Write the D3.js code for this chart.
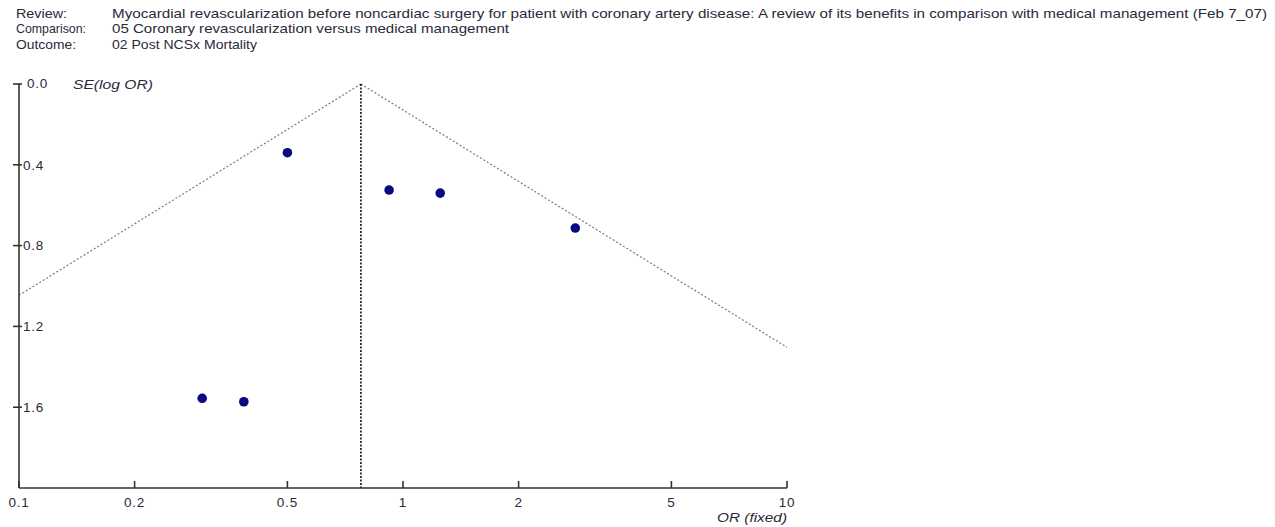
<!DOCTYPE html>
<html>
<head>
<meta charset="utf-8">
<script src="https://cdn.jsdelivr.net/npm/d3@7"></script>
<style>
  html, body { margin: 0; padding: 0; background: #fff; }
  svg { display: block; font-family: "Liberation Sans", Arial, sans-serif; }
</style>
</head>
<body>
<svg id="chart" width="1275" height="527"></svg>
<script>
// Header lines of the RevMan funnel plot
const headerLabels = ["Review:", "Comparison:", "Outcome:"];
const headerLabelWidths = [51, 70, 60];
const headerTexts = [
  "Myocardial revascularization before noncardiac surgery for patient with coronary artery disease: A review of its benefits in comparison with medical management (Feb 7_07)",
  "05 Coronary revascularization versus medical management",
  "02 Post NCSx Mortality"
];
const headerWidths = [1155, 397, 145];

// Study estimates: odds ratio and standard error of log OR
const studyOR = [0.50, 0.92, 1.25, 2.81, 0.30, 0.385];
const studySE = [0.34, 0.525, 0.54, 0.713, 1.556, 1.573];

// Pooled fixed-effect odds ratio
const pooledOR = 0.777;

// Axis ticks
const xTicks = [0.1, 0.2, 0.5, 1, 2, 5, 10];
const yTicks = [0, 0.4, 0.8, 1.2, 1.6];

const svg = d3.select("#chart");
const plot = { left: 19, right: 787, top: 84, bottom: 488 };

const x = d3.scaleLog().domain([0.1, 10]).range([plot.left, plot.right]);
const y = d3.scaleLinear().domain([0, 2]).range([plot.top, plot.bottom]);

const textColor = "#2a2a3a";

// Header
const hdr = svg.append("g").attr("font-size", 13).attr("fill", textColor);
headerLabels.forEach((lab, i) => {
  const yy = 17.5 + i * 15.5;
  hdr.append("text").attr("x", 16).attr("y", yy)
    .attr("textLength", headerLabelWidths[i]).attr("lengthAdjust", "spacingAndGlyphs")
    .text(lab);
  hdr.append("text").attr("x", 112).attr("y", yy)
    .attr("textLength", headerWidths[i]).attr("lengthAdjust", "spacingAndGlyphs")
    .text(headerTexts[i]);
});

// Funnel lines (95% pseudo-confidence limits)
const seMax = 2;
const funnelLeft = [];
const funnelRight = [];
d3.range(0, seMax + 0.0001, 0.01).forEach(se => {
  funnelLeft.push([pooledOR * Math.exp(-1.96 * se), se]);
  funnelRight.push([pooledOR * Math.exp(1.96 * se), se]);
});
const clipId = "plotclip";
svg.append("clipPath").attr("id", clipId)
  .append("rect").attr("x", plot.left).attr("y", plot.top - 2)
  .attr("width", plot.right - plot.left).attr("height", plot.bottom - plot.top + 2);

const line = d3.line().x(d => x(d[0])).y(d => y(d[1]));
[funnelLeft, funnelRight].forEach(pts => {
  svg.append("path")
    .attr("d", line(pts))
    .attr("clip-path", `url(#${clipId})`)
    .attr("fill", "none")
    .attr("stroke", "#7a7a7a")
    .attr("stroke-width", 1.2)
    .attr("stroke-dasharray", "2,2");
});

// Pooled estimate line
svg.append("line")
  .attr("x1", x(pooledOR)).attr("x2", x(pooledOR))
  .attr("y1", y(0)).attr("y2", plot.bottom)
  .attr("stroke", "#111")
  .attr("stroke-width", 1.6)
  .attr("stroke-dasharray", "2,1.5");

// Axes
const axisColor = "#333";
svg.append("line").attr("x1", plot.left).attr("x2", plot.left).attr("y1", plot.top).attr("y2", plot.bottom)
  .attr("stroke", axisColor).attr("stroke-width", 1.6);
svg.append("line").attr("x1", plot.left).attr("x2", plot.right).attr("y1", plot.bottom).attr("y2", plot.bottom)
  .attr("stroke", axisColor).attr("stroke-width", 1.6);

const yAx = svg.append("g");
yTicks.forEach(t => {
  yAx.append("line").attr("x1", plot.left - 6).attr("x2", plot.left + 3)
    .attr("y1", y(t)).attr("y2", y(t)).attr("stroke", axisColor).attr("stroke-width", 1.6);
  yAx.append("text").attr("x", t === 0 ? plot.left + 8 : plot.left + 4).attr("y", y(t) + (t === 0 ? -1 : 0))
    .attr("dy", "0.35em").attr("letter-spacing", 0.8)
    .attr("font-size", 13.5).attr("fill", textColor).text(d3.format(".1f")(t));
});
yAx.append("text").attr("x", 73).attr("y", plot.top).attr("dy", "0.35em")
  .attr("font-size", 13.5).attr("font-style", "italic").attr("fill", textColor)
  .attr("textLength", 80).attr("lengthAdjust", "spacingAndGlyphs").text("SE(log OR)");

const xAx = svg.append("g");
xTicks.forEach(t => {
  xAx.append("line").attr("x1", x(t)).attr("x2", x(t))
    .attr("y1", plot.bottom - 7).attr("y2", plot.bottom).attr("stroke", axisColor).attr("stroke-width", 1.6);
  xAx.append("text").attr("x", x(t)).attr("y", 502).attr("dy", "0.35em")
    .attr("text-anchor", "middle").attr("letter-spacing", 0.8)
    .attr("font-size", 13.5).attr("fill", textColor).text(t);
});
xAx.append("text").attr("x", plot.right - 70).attr("y", 517).attr("dy", "0.35em")
  .attr("font-size", 13.5).attr("font-style", "italic")
  .attr("textLength", 70).attr("lengthAdjust", "spacingAndGlyphs")
  .attr("fill", textColor).text("OR (fixed)");

// Study points
svg.append("g").selectAll("circle")
  .data(studyOR.map((or, i) => ({ or, se: studySE[i] })))
  .join("circle")
  .attr("cx", d => x(d.or))
  .attr("cy", d => y(d.se))
  .attr("r", 4.8)
  .attr("fill", "#0a0a80");
</script>
</body>
</html>
